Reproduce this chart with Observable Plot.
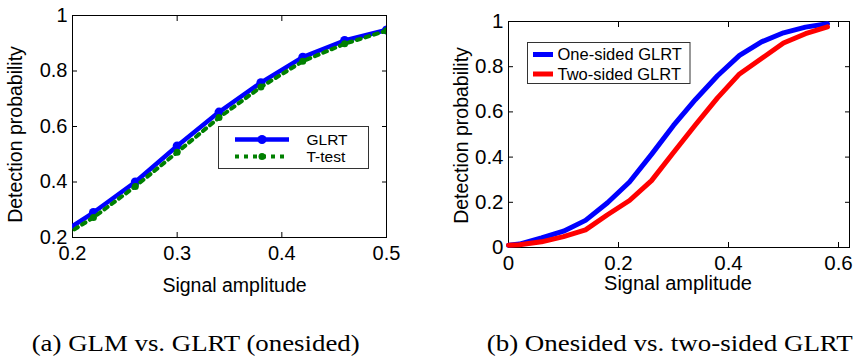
<!DOCTYPE html>
<html>
<head>
<meta charset="utf-8">
<script src="https://cdn.jsdelivr.net/npm/d3@7"></script>
<script src="https://cdn.jsdelivr.net/npm/@observablehq/plot@0.6"></script>
<style>
  html, body { margin: 0; padding: 0; background: #fff; }
  #wrap { position: relative; width: 855px; height: 357px; background: #fff; overflow: hidden; }
  #pa { position: absolute; left: 0; top: 0; }
  #pb { position: absolute; left: 430px; top: 0; }
  #overlay { position: absolute; left: 0; top: 0; pointer-events: none; }
</style>
</head>
<body>
<div id="wrap">
  <div id="pa"></div>
  <div id="pb"></div>
  <svg id="overlay" width="855" height="357"></svg>
</div>
<script>
// ---------- data ----------
// Panel (a): GLM (T-test) vs. GLRT (one-sided); first sample lies left of the axis and is clipped
const ampA   = [0.18, 0.22, 0.26, 0.30, 0.34, 0.38, 0.42, 0.46, 0.50];
const glrtA  = [0.192, 0.290, 0.400, 0.530, 0.652, 0.758, 0.850, 0.910, 0.948];
const ttestA = [0.178, 0.272, 0.384, 0.507, 0.632, 0.742, 0.835, 0.898, 0.945];
const xTicksA = [0.2, 0.3, 0.4, 0.5];
const yTicksA = [0.2, 0.4, 0.6, 0.8, 1];

// Panel (b): one-sided vs. two-sided GLRT
const ampB     = [0, 0.02, 0.06, 0.10, 0.14, 0.18, 0.22, 0.26, 0.30, 0.34, 0.38, 0.42, 0.46, 0.50, 0.54, 0.58];
const oneSided = [0.010, 0.015, 0.042, 0.072, 0.120, 0.198, 0.290, 0.412, 0.540, 0.655, 0.760, 0.850, 0.910, 0.950, 0.975, 0.990];
const twoSided = [0.010, 0.012, 0.025, 0.048, 0.078, 0.145, 0.208, 0.296, 0.420, 0.543, 0.662, 0.768, 0.836, 0.905, 0.946, 0.976];
const xTicksB = [0, 0.2, 0.4, 0.6];
const yTicksB = [0, 0.2, 0.4, 0.6, 0.8, 1];

const seriesA = ["GLRT", "T-test"];
const seriesB = ["One-sided GLRT", "Two-sided GLRT"];
const xLabel = "Signal amplitude";
const yLabel = "Detection probability";
const captions = ["(a) GLM vs. GLRT (onesided)", "(b) Onesided vs. two-sided GLRT"];

// ---------- build tables ----------
const dataA = ampA.map((x, i) => ({x, glrt: glrtA[i], ttest: ttestA[i]}));
const dataB = ampB.map((x, i) => ({x, one: oneSided[i], two: twoSided[i]}));

const FONT = "'Liberation Sans', Arial, Helvetica, sans-serif";
const blank = () => "";
const fmt = d3.format("~g");

function boxAxes(xt, yt, fs, padX, padY) {
  return [
    Plot.frame({stroke: "#000", strokeWidth: 1}),
    Plot.axisX(xt, {anchor: "bottom", tickSize: 0, tickPadding: padX, tickFormat: fmt, label: null, fontSize: fs}),
    Plot.axisX(xt, {anchor: "bottom", tickSize: -5, tickFormat: blank, label: null}),
    Plot.axisX(xt, {anchor: "top", tickSize: -5, tickFormat: blank, label: null}),
    Plot.axisY(yt, {anchor: "left", tickSize: 0, tickPadding: padY, tickFormat: fmt, label: null, fontSize: fs}),
    Plot.axisY(yt, {anchor: "left", tickSize: -5, tickFormat: blank, label: null}),
    Plot.axisY(yt, {anchor: "right", tickSize: -5, tickFormat: blank, label: null})
  ];
}

const plotA = Plot.plot({
  width: 420, height: 300,
  marginLeft: 72, marginRight: 34, marginTop: 15, marginBottom: 63,
  style: {fontFamily: FONT, fontSize: "20px", color: "#000", background: "transparent", overflow: "visible"},
  x: {domain: [0.2, 0.5]},
  y: {domain: [0.2, 1]},
  marks: [
    ...boxAxes(xTicksA, yTicksA, 20, 8, 5),
    Plot.text([yLabel], {frameAnchor: "left", textAnchor: "middle", lineAnchor: "middle", dx: -57, dy: 8, rotate: -90, fontSize: 19.5, fill: "#000"}),
    Plot.text([xLabel], {frameAnchor: "bottom", textAnchor: "middle", lineAnchor: "middle", dx: 5, dy: 48, fontSize: 19.5, fill: "#000"}),
    Plot.line(dataA, {x: "x", y: "glrt", stroke: "#0000ff", strokeWidth: 4.5, clip: true}),
    Plot.dot(dataA, {x: "x", y: "glrt", r: 4.5, fill: "#0000ff", clip: true}),
    Plot.line(dataA, {x: "x", y: "ttest", stroke: "#008000", strokeWidth: 4, strokeDasharray: "4,5", clip: true}),
    Plot.dot(dataA, {x: "x", y: "ttest", r: 3.5, fill: "#008000", clip: true})
  ]
});
document.getElementById("pa").appendChild(plotA);

const plotB = Plot.plot({
  width: 425, height: 300,
  marginLeft: 78, marginRight: 6, marginTop: 21, marginBottom: 53,
  style: {fontFamily: FONT, fontSize: "20px", color: "#000", background: "transparent", overflow: "visible"},
  x: {domain: [0, 0.62]},
  y: {domain: [0, 1]},
  marks: [
    ...boxAxes(xTicksB, yTicksB, 20.5, 8, 5),
    Plot.text([yLabel], {frameAnchor: "left", textAnchor: "middle", lineAnchor: "middle", dx: -47, dy: 1, rotate: -90, fontSize: 19.5, fill: "#000"}),
    Plot.text([xLabel], {frameAnchor: "bottom", textAnchor: "middle", lineAnchor: "middle", dx: -1, dy: 36.5, fontSize: 20, fill: "#000"}),
    Plot.line(dataB, {x: "x", y: "one", stroke: "#0000ff", strokeWidth: 5}),
    Plot.line(dataB, {x: "x", y: "two", stroke: "#ff0000", strokeWidth: 5})
  ]
});
document.getElementById("pb").appendChild(plotB);

// ---------- legends and captions (overlay) ----------
const ov = d3.select("#overlay");

// legend (a)
const la = ov.append("g");
la.append("rect").attr("x", 218.5).attr("y", 126.5).attr("width", 150).attr("height", 42)
  .attr("fill", "#fff").attr("stroke", "#333").attr("stroke-width", 1);
la.append("line").attr("x1", 235).attr("x2", 289).attr("y1", 139.5).attr("y2", 139.5)
  .attr("stroke", "#0000ff").attr("stroke-width", 4.5);
la.append("circle").attr("cx", 262).attr("cy", 139.5).attr("r", 4.5).attr("fill", "#0000ff");
la.append("line").attr("x1", 235).attr("x2", 289).attr("y1", 156.5).attr("y2", 156.5)
  .attr("stroke", "#008000").attr("stroke-width", 4).attr("stroke-dasharray", "4,5");
la.append("circle").attr("cx", 262).attr("cy", 156.5).attr("r", 3.5).attr("fill", "#008000");
la.selectAll("text.l").data(seriesA).join("text")
  .attr("x", 306.5).attr("y", (d, i) => i ? 156.5 : 139.5).attr("dy", "0.36em")
  .attr("font-family", FONT).attr("font-size", 15.5).attr("fill", "#000").text(d => d);

// legend (b)
const lb = ov.append("g");
lb.append("rect").attr("x", 527.5).attr("y", 42.5).attr("width", 162.5).attr("height", 41)
  .attr("fill", "#fff").attr("stroke", "#333").attr("stroke-width", 1);
const colB = ["#0000ff", "#ff0000"];
lb.selectAll("line").data(seriesB).join("line")
  .attr("x1", 533).attr("x2", 553).attr("y1", (d, i) => i ? 74 : 54.5).attr("y2", (d, i) => i ? 74 : 54.5)
  .attr("stroke", (d, i) => colB[i]).attr("stroke-width", 5);
lb.selectAll("text").data(seriesB).join("text")
  .attr("x", 557.5).attr("y", (d, i) => i ? 74 : 54.5).attr("dy", "0.36em")
  .attr("font-family", FONT).attr("font-size", 16.5).attr("fill", "#000").text(d => d);

// captions
const capX = [31.7, 486.7], capW = [328, 366];
ov.selectAll("text.cap").data(captions).join("text").attr("class", "cap")
  .attr("x", (d, i) => capX[i]).attr("y", 351)
  .attr("textLength", (d, i) => capW[i]).attr("lengthAdjust", "spacingAndGlyphs")
  .attr("font-family", "'Liberation Serif', 'Times New Roman', serif").attr("font-size", 23)
  .attr("fill", "#000").text(d => d);
</script>
</body>
</html>
